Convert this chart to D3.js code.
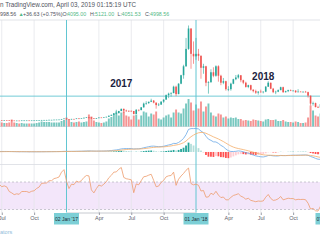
<!DOCTYPE html>
<html>
<head>
<meta charset="utf-8">
<script src="https://cdn.jsdelivr.net/npm/d3@7"></script>
<style>
  body { margin: 0; background: #fff; }
  svg { display: block; font-family: "Liberation Sans", Arial, sans-serif; }
</style>
</head>
<body>
<div id="my_dataviz"></div>
<script>
// weekly bars, first week starts monday 04 jan 2016
var firstWeek = new Date(2016, 0, 4);
var firstOpen = 430;

var closes = [
  // 2016
  447, 383, 402, 376, 385, 405, 437, 433, 410, 414, 410, 416, 418, 422, 428, 460, 445, 460, 455, 443, 527, 580, 690, 765, 665, 675,
  650, 665, 655, 606, 590, 570, 580, 575, 608, 608, 608, 600, 612, 617, 640, 655, 700, 703, 705, 735, 735, 765, 775, 790, 900, 1000,
  // 2017
  905, 825, 920, 915, 1010, 995, 1045, 1150, 1235, 1230, 1020, 960, 1080, 1200, 1180, 1250, 1350, 1560, 1730, 2050, 2080, 2500,
  2950, 2600, 2550, 2530, 2510, 1920, 2750, 2700, 3250, 4000, 4100, 4370, 4600, 4200, 3700, 3800, 4400, 4800, 5700, 6000, 6100,
  7400, 5900, 8000, 9700, 11500, 15000, 19100, 14000, 13500,
  // 2018
  14000, 13600, 11200, 11500, 8200, 8300, 10300, 9600, 11500, 9600, 8200, 8500, 6900, 6900, 8000, 8900, 9250, 9700, 8700, 8200,
  7350, 7700, 6800, 6500, 6200, 6400, 6300, 6400, 7400, 8200, 7000, 6300, 6400, 6700, 7300, 6300, 6500, 6700, 6600, 6600, 6300,
  6400, 6350, 6380, 6300, 5600, 4000, 4100, 3300, 3200, 3900, 3700, 3800
];
var highs = [
  462, 450, 412, 400, 390, 410, 445, 440, 440, 418, 420, 420, 422, 426, 432, 463, 470, 465, 460, 458, 530, 590, 695, 780, 770, 705,
  685, 675, 670, 660, 614, 600, 590, 585, 612, 630, 612, 610, 615, 620, 642, 660, 720, 740, 740, 750, 745, 770, 780, 795, 920, 1000,
  1150, 910, 935, 925, 1030, 1065, 1050, 1190, 1290, 1300, 1260, 1060, 1090, 1210, 1215, 1260, 1360, 1600, 1800, 2100, 2760, 2550,
  2980, 2980, 2780, 2600, 2650, 2520, 2900, 2800, 3300, 4200, 4480, 4380, 4980, 4720, 4200, 4100, 4450, 4850, 5850, 6200, 6300,
  7600, 7600, 8100, 9800, 11800, 17200, 19700, 19100, 16500,
  17200, 15000, 13700, 12000, 11600, 8500, 10900, 11300, 11700, 11700, 9800, 9150, 8600, 7500, 8200, 9000, 9750, 9950, 9700, 8800,
  8400, 7800, 7800, 6850, 6800, 6500, 6800, 6450, 7550, 8500, 8200, 7150, 6600, 6850, 7400, 7400, 6600, 6800, 6850, 6700, 6700,
  6900, 6480, 6450, 6550, 6400, 5600, 4400, 4200, 3550, 4300, 4100, 4050
];
var lows = [
  425, 360, 375, 365, 365, 372, 400, 410, 400, 405, 405, 405, 410, 414, 418, 425, 440, 440, 445, 436, 440, 520, 570, 680, 550, 610,
  630, 645, 645, 595, 480, 565, 565, 565, 570, 600, 600, 592, 598, 605, 610, 630, 650, 680, 690, 690, 725, 730, 755, 770, 790, 885,
  750, 760, 820, 880, 910, 940, 990, 1040, 1150, 980, 950, 890, 940, 1050, 1150, 1170, 1240, 1340, 1550, 1720, 1850, 2050,
  2480, 2100, 2350, 2320, 2450, 1830, 1920, 2450, 2650, 3200, 3750, 3950, 4300, 4050, 2980, 3500, 3750, 4150, 4800, 5100, 5400,
  6100, 5500, 5900, 7900, 9000, 11400, 14800, 11000, 12000,
  12800, 12600, 9000, 10000, 7500, 6000, 8200, 9300, 9400, 8400, 7700, 7900, 6600, 6500, 6600, 7900, 8700, 9000, 8300, 7900,
  7200, 7100, 6600, 6250, 5950, 5800, 6200, 6050, 6300, 7350, 6900, 6100, 5900, 6300, 6700, 6150, 6200, 6300, 6500, 6500, 6150,
  6300, 6350, 6270, 6250, 5200, 3600, 3600, 3250, 3150, 3200, 3550, 3700
];
var volumes = [
  60, 80, 50, 45, 40, 45, 55, 45, 45, 35, 30, 30, 30, 30, 30, 40, 40, 35, 30, 30, 50, 55, 75, 90, 95, 55,
  40, 35, 35, 40, 70, 40, 35, 30, 35, 30, 30, 30, 30, 30, 35, 40, 50, 45, 45, 45, 40, 40, 40, 40, 55, 65,
  90, 70, 45, 40, 45, 50, 40, 45, 50, 120, 100, 60, 45, 40, 35, 40, 50, 80, 95, 120, 150, 110,
  140, 150, 110, 100, 70, 110, 120, 70, 110, 150, 140, 100, 130, 120, 150, 80, 70, 90, 110, 120, 90,
  140, 170, 140, 130, 180, 230, 275, 240, 160,
  220, 180, 250, 150, 200, 230, 140, 110, 100, 130, 120, 90, 100, 80, 90, 85, 90, 75, 75, 60,
  65, 60, 55, 70, 65, 60, 55, 50, 70, 75, 65, 65, 70, 55, 55, 65, 50, 45, 45, 40, 50,
  45, 35, 35, 40, 90, 210, 160, 110, 100, 130, 100, 80
];

// time axis labels
var tickDates = [new Date(2016, 6, 4), new Date(2016, 9, 3), new Date(2017, 3, 3), new Date(2017, 6, 3),
  new Date(2017, 9, 2), new Date(2018, 3, 2), new Date(2018, 6, 2), new Date(2018, 9, 1)];
var tickLabels = ["Jul", "Oct", "Apr", "Jul", "Oct", "Apr", "Jul", "Oct"];
var markDates = [new Date(2017, 0, 2), new Date(2018, 0, 1), new Date(2019, 0, 7)];
var markLabels = ["02 Jan '17", "01 Jan '18", "07 Jan '19"];
var levelPrice = 5500;
var yearNotes = [{ text: "2017", date: new Date(2017, 5, 5), price: 7300 }, { text: "2018", date: new Date(2018, 6, 9), price: 8650 }];

var W = 320, H = 240;
var green = "#26a69a", red = "#ef5350", cyan = "#62c6d2";

var svg = d3.select("#my_dataviz").append("svg").attr("width", W).attr("height", H);

var weeks = d3.timeMonday.range(firstWeek, new Date(2019, 0, 2));
var bars = weeks.map(function (d, i) {
  return { date: d, open: i ? closes[i - 1] : firstOpen, high: highs[i], low: lows[i], close: closes[i], vol: volumes[i] };
});

// scales
var x = d3.scaleTime().domain([new Date(2017, 0, 2), new Date(2018, 0, 1)]).range([66.5, 196]);
var y = d3.scaleLinear().domain([0, 20000]).range([123.5, 24]);
var yVol = d3.scaleLinear().domain([0, 300]).range([126.5, 96.5]);
var yRsi = d3.scaleLinear().domain([30, 70]).range([209.5, 182]);

// macd 12 26 9
function ema(vals, n) {
  var k = 2 / (n + 1), out = [], prev = vals[0];
  vals.forEach(function (v, i) { prev = i ? v * k + prev * (1 - k) : v; out.push(prev); });
  return out;
}
var e12 = ema(closes, 12), e26 = ema(closes, 26);
var macd = e12.map(function (v, i) { return v - e26[i]; });
var signal = ema(macd, 9);
var hist = macd.map(function (v, i) { return v - signal[i]; });
var mAll = macd.concat(signal, hist);
var yMacd = d3.scaleLinear().domain(d3.extent(mAll)).range([159.5, 128.5]);

// rsi 14 (wilder)
var rsi = [], ag = 0, al = 0;
closes.forEach(function (c, i) {
  if (i === 0) { rsi.push(null); return; }
  var ch = c - closes[i - 1], g = Math.max(ch, 0), l = Math.max(-ch, 0);
  if (i <= 14) {
    ag += g / 14; al += l / 14;
    rsi.push(i === 14 ? 100 - 100 / (1 + ag / al) : null);
  } else {
    ag = (ag * 13 + g) / 14; al = (al * 13 + l) / 14;
    rsi.push(100 - 100 / (1 + ag / al));
  }
});

// rsi band
svg.append("rect").attr("x", 0).attr("width", W).attr("y", yRsi(70)).attr("height", yRsi(30) - yRsi(70)).attr("fill", "#f3e6fa");
[70, 30].forEach(function (v) {
  svg.append("line").attr("x1", 0).attr("x2", W).attr("y1", yRsi(v)).attr("y2", yRsi(v))
    .attr("stroke", "#a7a9b3").attr("stroke-dasharray", "2,2").attr("stroke-width", 0.6);
});

// grid
svg.selectAll(".vgrid").data(tickDates).enter().append("line")
  .attr("x1", function (d) { return x(d); }).attr("x2", function (d) { return x(d); })
  .attr("y1", 20).attr("y2", 212.5).attr("stroke", "#e4e6eb").attr("stroke-width", 0.8);
[20, 126.5, 164.5].forEach(function (v) {
  svg.append("line").attr("x1", 0).attr("x2", W).attr("y1", v).attr("y2", v).attr("stroke", "#d9dce2").attr("stroke-width", 0.8);
});

// volume
svg.append("g").selectAll("rect").data(bars).enter().append("rect")
  .attr("x", function (d) { return x(d.date) - 0.95; })
  .attr("width", 1.9)
  .attr("y", function (d) { return yVol(d.vol); })
  .attr("height", function (d) { return yVol(0) - yVol(d.vol); })
  .attr("fill", function (d) { return d.close >= d.open ? green : red; })
  .attr("opacity", 0.62);

// level line and vertical markers
svg.append("line").attr("x1", 0).attr("x2", W).attr("y1", y(levelPrice)).attr("y2", y(levelPrice)).attr("stroke", cyan).attr("stroke-width", 0.9);
svg.selectAll(".vmark").data(markDates).enter().append("line")
  .attr("x1", function (d) { return x(d); }).attr("x2", function (d) { return x(d); })
  .attr("y1", 20).attr("y2", 212.5).attr("stroke", cyan).attr("stroke-width", 1);

// candles
var candle = svg.append("g").selectAll("g").data(bars).enter().append("g");
candle.append("line")
  .attr("x1", function (d) { return x(d.date); }).attr("x2", function (d) { return x(d.date); })
  .attr("y1", function (d) { return y(d.high); }).attr("y2", function (d) { return y(d.low); })
  .attr("stroke", function (d) { return d.close >= d.open ? green : red; })
  .attr("stroke-width", 0.6);
candle.append("rect")
  .attr("x", function (d) { return x(d.date) - 0.8; })
  .attr("width", 1.6)
  .attr("y", function (d) { return y(Math.max(d.open, d.close)); })
  .attr("height", function (d) { return Math.max(0.6, Math.abs(y(d.open) - y(d.close))); })
  .attr("fill", function (d) { return d.close >= d.open ? green : red; });

// year notes
svg.selectAll(".note").data(yearNotes).enter().append("text")
  .attr("x", function (d) { return x(d.date); }).attr("y", function (d) { return y(d.price); })
  .attr("text-anchor", "middle").attr("font-size", 10).attr("font-weight", "bold").attr("fill", "#1c2340")
  .text(function (d) { return d.text; });

// macd histogram and lines
svg.append("g").selectAll("rect").data(hist).enter().append("rect")
  .attr("x", function (d, i) { return x(weeks[i]) - 0.9; })
  .attr("width", 1.8)
  .attr("y", function (d) { return Math.min(yMacd(d), yMacd(0)); })
  .attr("height", function (d) { return Math.abs(yMacd(d) - yMacd(0)); })
  .attr("fill", function (d, i) {
    var p = i ? hist[i - 1] : d;
    if (d >= 0) return d > p ? "#26a69a" : "#b2dfdb";
    return d < p ? "#ff5252" : "#ffcdd2";
  });
var mline = d3.line().x(function (d, i) { return x(weeks[i]); }).y(function (d) { return yMacd(d); });
svg.append("path").attr("d", mline(macd)).attr("fill", "none").attr("stroke", "#6aa8e6").attr("stroke-width", 0.8);
svg.append("path").attr("d", mline(signal)).attr("fill", "none").attr("stroke", "#f4ad6a").attr("stroke-width", 0.8);

// rsi line
var rline = d3.line().defined(function (d) { return d !== null; })
  .x(function (d, i) { return x(weeks[i]); }).y(function (d) { return yRsi(d); });
svg.append("path").attr("d", rline(rsi)).attr("fill", "none").attr("stroke", "#ee9c6c").attr("stroke-width", 0.8);

// time axis
var axis = svg.append("g").attr("transform", "translate(0,212.5)")
  .call(d3.axisBottom(x).tickValues(tickDates).tickSize(2.5).tickPadding(1.5)
    .tickFormat(function (d, i) { return tickLabels[i]; }));
axis.select(".domain").attr("stroke", "#b9bcc4").attr("stroke-width", 0.8);
axis.selectAll(".tick line").attr("stroke", "#9a9da6");
axis.selectAll("text").attr("font-size", 5.5).attr("fill", "#5d606b").attr("font-family", "Liberation Sans, Arial, sans-serif");

var mk = svg.selectAll(".mk").data(markDates).enter().append("g")
  .attr("transform", function (d) { return "translate(" + x(d) + ",213)"; });
mk.append("rect").attr("x", -12.5).attr("width", 25).attr("height", 11.5).attr("fill", "#7ccfd6");
mk.append("text").attr("y", 8.2).attr("text-anchor", "middle").attr("font-size", 5).attr("fill", "#1d2b33")
  .text(function (d, i) { return markLabels[i]; });

// header
svg.append("text").attr("x", 0).attr("y", 7).attr("font-size", 6.3).attr("fill", "#50535e")
  .text("n TradingView.com, April 03, 2019 01:15:19 UTC");
var hdr = svg.append("text").attr("y", 16).attr("font-size", 5.3).attr("fill", "#50535e");
[["998.56", 0, "#50535e"], ["\u25B2", 18.5, "#53b987"], ["+36.63 (+0.75%)", 23, "#50535e"],
 ["O:", 62.5, "#50535e"], ["4095.00", 67, "#53b987"], ["H:", 90, "#50535e"], ["5121.00", 95, "#53b987"],
 ["L:", 117.5, "#50535e"], ["4051.53", 121.5, "#53b987"], ["C:", 145, "#50535e"], ["4998.56", 150, "#53b987"]]
  .forEach(function (t) { hdr.append("tspan").attr("x", t[1]).attr("fill", t[2]).text(t[0]); });

svg.append("text").attr("x", 0).attr("y", 234).attr("font-size", 5.5).attr("fill", "#8fbbd9").text("ators");
</script>
</body>
</html>
